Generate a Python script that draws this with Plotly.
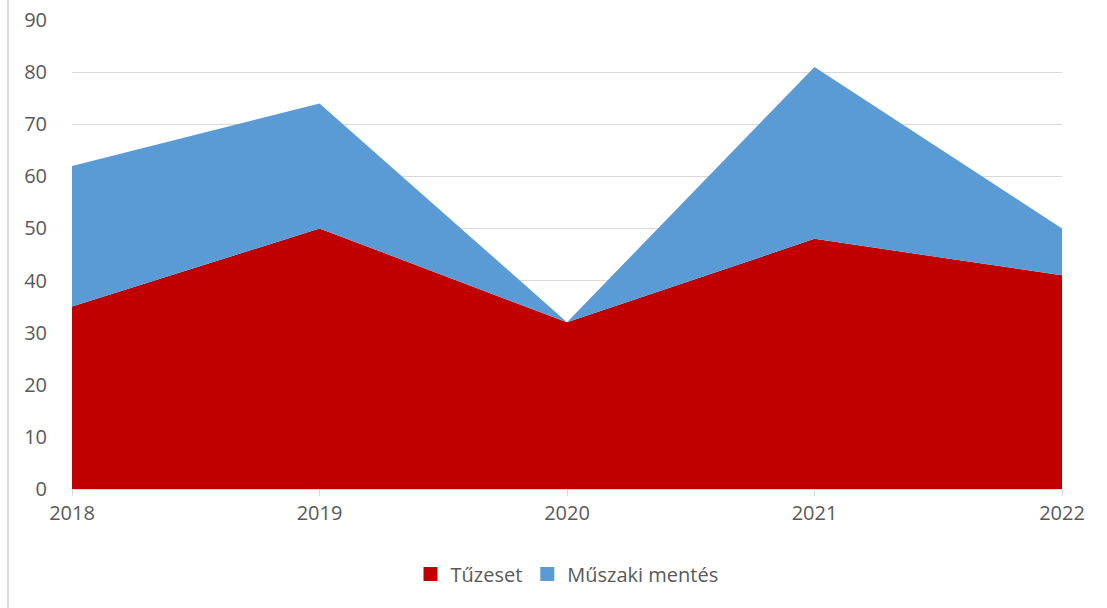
import plotly.graph_objects as go

years = ["2018", "2019", "2020", "2021", "2022"]
tuzeset = [35, 50, 32, 48, 41]
muszaki = [27, 24, 0, 33, 9]
y_ticks = [0, 10, 20, 30, 40, 50, 60, 70, 80, 90]
series_names = ["Tűzeset", "Műszaki mentés"]
series_colors = ["#c00000", "#5b9bd5"]

fig = go.Figure()
fig.add_trace(go.Scatter(x=years, y=tuzeset, name=series_names[0], mode="none",
                         stackgroup="one", fillcolor=series_colors[0], showlegend=False))
fig.add_trace(go.Scatter(x=years, y=muszaki, name=series_names[1], mode="none",
                         stackgroup="one", fillcolor=series_colors[1], showlegend=False))
# legend-only square markers
for nm, col in zip(series_names, series_colors):
    fig.add_trace(go.Scatter(x=[None], y=[None], name=nm, mode="markers",
                             marker=dict(color=col, symbol="square", size=14),
                             showlegend=True))

font = dict(family="Open Sans, Liberation Sans, sans-serif", size=20, color="#595959")
W, H = 1107, 608
L, R, T, B = 72, 45, 20, 119
PW, PH = W - L - R, H - T - B
fig.update_layout(
    width=W, height=H,
    margin=dict(l=L, r=R, t=T, b=B, autoexpand=False),
    paper_bgcolor="white", plot_bgcolor="white",
    font=font,
    showlegend=True,
    legend=dict(orientation="h", x=0.5, xanchor="center", y=-(574 - (H - B)) / PH,
                yanchor="middle",
                font=dict(family=font["family"], size=20, color="#595959"),
                itemsizing="trace", traceorder="normal", itemwidth=30),
    xaxis=dict(type="category", range=[0, 4], showgrid=False, showline=True,
               linecolor="#d9d9d9", linewidth=1, ticks="outside", ticklen=6,
               tickcolor="#d9d9d9", tickfont=font, zeroline=False),
    yaxis=dict(range=[0, 90], tickvals=y_ticks, showgrid=True, gridcolor="#d9d9d9",
               gridwidth=1, showline=False, zeroline=False, tickfont=font,
               ticks="", ticklabelstandoff=24, ticklabeloverflow="allow"),
    shapes=[dict(type="line", xref="paper", yref="paper",
                 x0=(8 - L) / PW, x1=(8 - L) / PW, y0=-B / PH, y1=1 + T / PH,
                 line=dict(color="#d9d9d9", width=2))],
)
fig.write_html("out.html", config={"displayModeBar": False},
               post_script="document.body.style.margin='0';document.body.style.overflow='hidden';")
